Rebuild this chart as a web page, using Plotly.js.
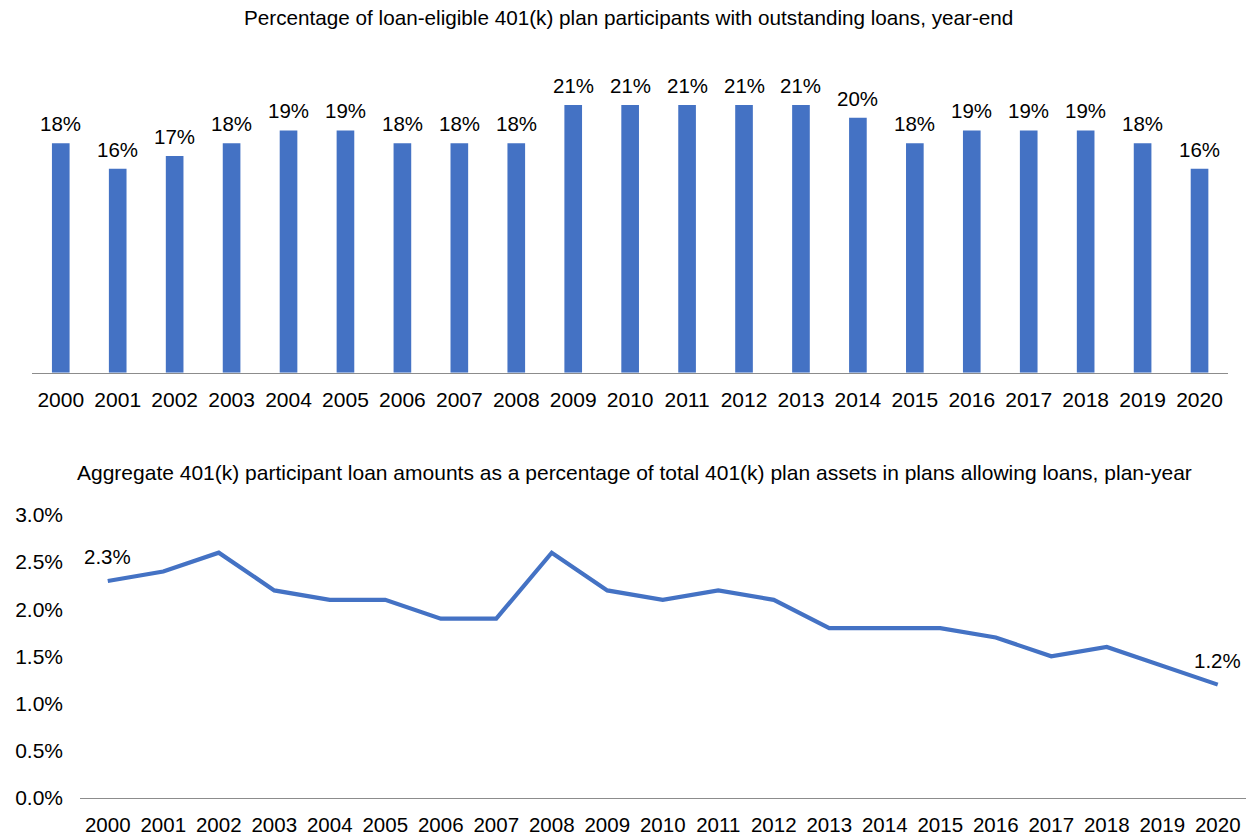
<!DOCTYPE html>
<html>
<head>
<meta charset="utf-8">
<script src="https://cdn.plot.ly/plotly-3.0.1.min.js"></script>
<style>html,body{margin:0;padding:0;background:#fff;}#chart{width:1248px;height:838px;}</style>
</head>
<body>
<div id="chart"></div>
<script>
const years = ['2000','2001','2002','2003','2004','2005','2006','2007','2008','2009','2010','2011','2012','2013','2014','2015','2016','2017','2018','2019','2020'];
const loanParticipantsPct = [18,16,17,18,19,19,18,18,18,21,21,21,21,21,20,18,19,19,19,18,16];
const loanAssetsPct = [2.3,2.4,2.6,2.2,2.1,2.1,1.9,1.9,2.6,2.2,2.1,2.2,2.1,1.8,1.8,1.8,1.7,1.5,1.6,1.4,1.2];
const topTitle = 'Percentage of loan-eligible 401(k) plan participants with outstanding loans, year-end';
const bottomTitle = 'Aggregate 401(k) participant loan amounts as a percentage of total 401(k) plan assets in plans allowing loans, plan-year';

const FONT = 'Liberation Sans, Arial, sans-serif';
const BLUE = '#4472C4';
const W = 1248, H = 838;
const px = v => v / W;
const py = v => 1 - v / H;

const traces = [
  {type:'bar', x: years, y: loanParticipantsPct, xaxis:'x', yaxis:'y',
   marker:{color: BLUE}, hoverinfo:'skip'},
  {type:'scatter', mode:'lines', x: years, y: loanAssetsPct, xaxis:'x2', yaxis:'y2',
   line:{color: BLUE, width:4.2}, hoverinfo:'skip'}
];

const annotations = [];
years.forEach((yr, i) => {
  annotations.push({xref:'x', yref:'y', x: i, y: loanParticipantsPct[i], text: loanParticipantsPct[i] + '%',
    showarrow:false, yanchor:'bottom', yshift:6, font:{family:FONT, size:20.5, color:'#000'}});
});
[0, years.length - 1].forEach(i => {
  annotations.push({xref:'x2', yref:'y2', x: i, y: loanAssetsPct[i], text: loanAssetsPct[i].toFixed(1) + '%',
    showarrow:false, yanchor:'bottom', yshift:11, font:{family:FONT, size:20.5, color:'#000'}});
});
annotations.push({xref:'paper', yref:'paper', x: px(628), y: py(17), text: topTitle, showarrow:false,
  xanchor:'center', yanchor:'middle', font:{family:FONT, size:20.7, color:'#000'}});
annotations.push({xref:'paper', yref:'paper', x: px(634), y: py(472), text: bottomTitle, showarrow:false,
  xanchor:'center', yanchor:'middle', font:{family:FONT, size:21, color:'#000'}});

const layout = {
  width: W, height: H,
  margin:{l:0, r:0, t:0, b:0},
  paper_bgcolor:'#fff', plot_bgcolor:'#fff',
  showlegend:false,
  bargap: 0.69,
  font:{family:FONT, size:21, color:'#000'},
  xaxis:{domain:[px(32.3), px(1228)], type:'category', range:[-0.5, 20.5], showline:true, linecolor:'#8c8c8c', linewidth:1.3,
    showgrid:false, zeroline:false, ticks:'', tickfont:{family:FONT, size:21, color:'#000'}, ticklabelstandoff:8, fixedrange:true},
  yaxis:{domain:[py(372.7), py(54)], range:[0,25], visible:false, fixedrange:true},
  xaxis2:{domain:[px(80), px(1245.5)], type:'category', range:[-0.5, 20.5], anchor:'y2', showline:true, linecolor:'#8c8c8c', linewidth:1.3,
    showgrid:false, zeroline:false, ticks:'', tickfont:{family:FONT, size:20.5, color:'#000'}, ticklabelstandoff:8, fixedrange:true},
  yaxis2:{domain:[py(797.7), py(515)], range:[0,3.0], anchor:'x2', dtick:0.5, tick0:0, tickformat:'.1f', ticksuffix:'%',
    showgrid:false, zeroline:false, showline:false, ticks:'', tickfont:{family:FONT, size:21, color:'#000'}, ticklabelstandoff:16, fixedrange:true},
  annotations: annotations
};

Plotly.newPlot('chart', traces, layout, {displayModeBar:false, staticPlot:true});
</script>
</body>
</html>
